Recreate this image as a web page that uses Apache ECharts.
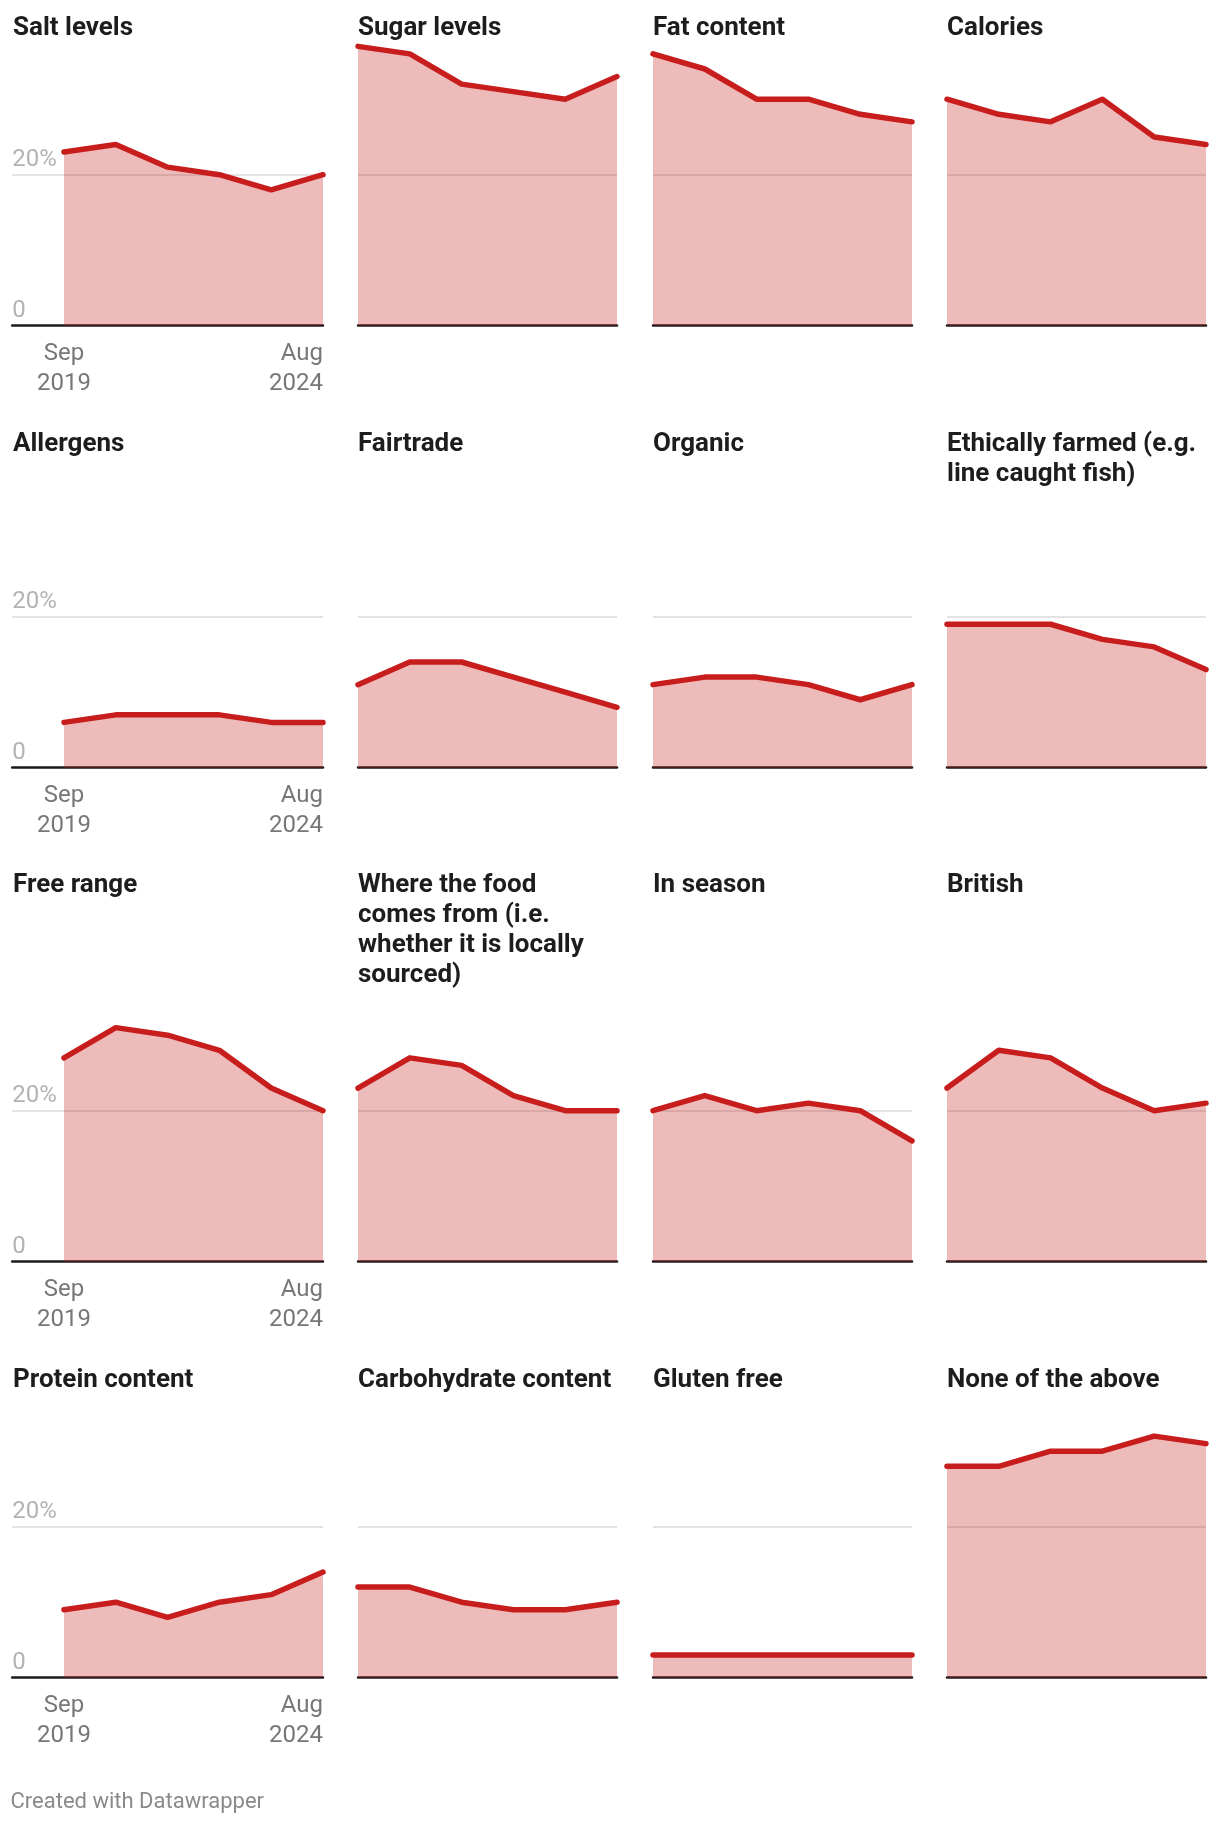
<!DOCTYPE html>
<html><head><meta charset="utf-8">
<script src="https://cdn.jsdelivr.net/npm/echarts@6/dist/echarts.min.js"></script>
<style>html,body{margin:0;padding:0;background:#fff}#c{width:1220px;height:1824px}</style>
</head><body><div id="c"></div>
<script>
// ---- data ----
const panelTitles = [
  'Salt levels', 'Sugar levels', 'Fat content', 'Calories',
  'Allergens', 'Fairtrade', 'Organic', 'Ethically farmed (e.g.\nline caught fish)',
  'Free range', 'Where the food\ncomes from (i.e.\nwhether it is locally\nsourced)', 'In season', 'British',
  'Protein content', 'Carbohydrate content', 'Gluten free', 'None of the above'
];
const salt = [23, 24, 21, 20, 18, 20];
const sugar = [37, 36, 32, 31, 30, 33];
const fat = [36, 34, 30, 30, 28, 27];
const calories = [30, 28, 27, 30, 25, 24];
const allergens = [6, 7, 7, 7, 6, 6];
const fairtrade = [11, 14, 14, 12, 10, 8];
const organic = [11, 12, 12, 11, 9, 11];
const ethicallyFarmed = [19, 19, 19, 17, 16, 13];
const freeRange = [27, 31, 30, 28, 23, 20];
const whereFrom = [23, 27, 26, 22, 20, 20];
const inSeason = [20, 22, 20, 21, 20, 16];
const british = [23, 28, 27, 23, 20, 21];
const protein = [9, 10, 8, 10, 11, 14];
const carbohydrate = [12, 12, 10, 9, 9, 10];
const glutenFree = [3, 3, 3, 3, 3, 3];
const noneOfAbove = [28, 28, 30, 30, 32, 31];
const seriesValues = [salt, sugar, fat, calories, allergens, fairtrade, organic, ethicallyFarmed,
  freeRange, whereFrom, inSeason, british, protein, carbohydrate, glutenFree, noneOfAbove];
const xTickLabels = ['Sep\n2019', 'Aug\n2024'];
const yTicks = [0, 20];

// ---- layout ----
const colX = [64, 358, 653, 947];
const plotW = 259;
const rowBase = [325.7, 767.7, 1261.7, 1677.7];
const titleTop = [13, 429, 870, 1365];
const pxPerPct = 151 / 20;
const yMax = 40;
const gridH = yMax * pxPerPct;
const RED = '#c71e1d';
const FONT = 'Roboto';

const grids = [], xAxes = [], yAxes = [], series = [], titles = [];
seriesValues.forEach((vals, i) => {
  const r = Math.floor(i / 4), c = i % 4;
  const first = c === 0;
  const last = vals.length - 1;
  grids.push({
    left: first ? colX[0] - plotW / last : colX[c],
    width: first ? plotW * (last + 1) / last : plotW,
    top: rowBase[r] - gridH, height: gridH,
    containLabel: false, outerBoundsMode: 'none'
  });
  xAxes.push({
    gridIndex: i, type: 'value', min: first ? -1 : 0, max: last, interval: 1,
    axisLine: { show: true, onZero: true, lineStyle: { color: '#1a1a1a', width: 2.5 } },
    axisTick: { show: false }, splitLine: { show: false },
    axisLabel: {
      show: first, margin: 13.5, fontFamily: FONT, fontSize: 24, lineHeight: 30, color: '#777777',
      alignMaxLabel: 'right',
      formatter: v => v === 0 ? xTickLabels[0] : (v === last ? xTickLabels[1] : '')
    }
  });
  yAxes.push({
    gridIndex: i, type: 'value', min: 0, max: yMax, interval: 20,
    axisLine: { show: false }, axisTick: { show: false },
    splitLine: { show: true, showMinLine: false, showMaxLine: false, lineStyle: { color: '#e3e3e3', width: 2 } },
    axisLabel: {
      show: first, inside: true, margin: 0, verticalAlign: 'bottom', showMaxLabel: false,
      fontFamily: FONT, fontSize: 24, lineHeight: 30, color: '#b3b3b3', padding: [0, 0, 0, 0],
      formatter: v => yTicks.indexOf(v) < 0 ? '' : (v === 0 ? '0' : v + '%')
    }
  });
  series.push({
    type: 'line', xAxisIndex: i, yAxisIndex: i, symbol: 'none', silent: true,
    data: vals.map((v, k) => [k, v]),
    lineStyle: { color: RED, width: 5.5, cap: 'round', join: 'round' },
    areaStyle: { color: RED, opacity: 0.3 }
  });
  titles.push({
    text: panelTitles[i], left: first ? 13 : colX[c], top: titleTop[r], padding: 0,
    textStyle: { fontFamily: FONT, fontWeight: 'bold', fontSize: 26, lineHeight: 30, color: '#1d1d1d' }
  });
});
titles.push({
  text: 'Created with Datawrapper', left: 10.5, top: 1789, padding: 0,
  textStyle: { fontFamily: FONT, fontWeight: 'normal', fontSize: 22, lineHeight: 26, color: '#8a8a8a' }
});

const chart = echarts.init(document.getElementById('c'), null, { renderer: 'canvas' });
chart.setOption({
  backgroundColor: '#fff', animation: false,
  title: titles, grid: grids, xAxis: xAxes, yAxis: yAxes, series: series
});
</script></body></html>
